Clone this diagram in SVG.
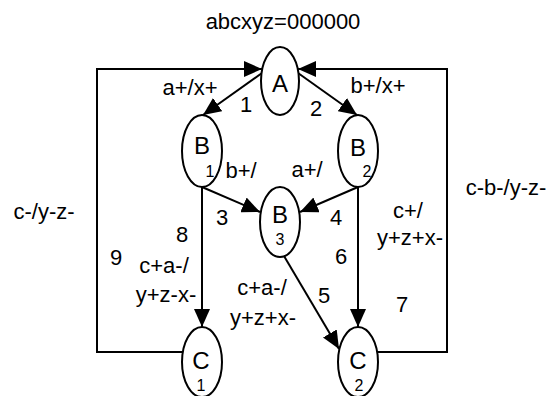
<svg xmlns="http://www.w3.org/2000/svg" width="560" height="396" viewBox="0 0 560 396">
<style>
text{font-family:"Liberation Sans",Arial,sans-serif;fill:#000;text-anchor:middle}
.lb{font-size:22px}
.nd{font-size:24px}
.sb{font-size:16px}
ellipse{fill:#fff;stroke:#000;stroke-width:2}
.e{fill:none;stroke:#000;stroke-width:2}
</style>
<defs>
<marker id="ah" markerUnits="userSpaceOnUse" markerWidth="18" markerHeight="16" refX="18" refY="8" orient="auto">
<path d="M0,0 L18,8 L0,16 z" fill="#000"/>
</marker>
</defs>
<rect width="560" height="396" fill="#fff"/>
<g id="connectors">
<path class="e" d="M183,352 H97 V69 H262" marker-end="url(#ah)"/>
<path class="e" d="M377,352 H447 V69 H298" marker-end="url(#ah)"/>
<line class="e" x1="262" y1="73" x2="203" y2="115" marker-end="url(#ah)"/>
<line class="e" x1="298" y1="73" x2="357" y2="115" marker-end="url(#ah)"/>
<line class="e" x1="202" y1="187" x2="260" y2="212" marker-end="url(#ah)"/>
<line class="e" x1="358" y1="187" x2="300" y2="212" marker-end="url(#ah)"/>
<line class="e" x1="202" y1="187" x2="202" y2="327" marker-end="url(#ah)"/>
<line class="e" x1="358" y1="187" x2="358" y2="327" marker-end="url(#ah)"/>
<line class="e" x1="284" y1="256" x2="339" y2="349" marker-end="url(#ah)"/>
</g>
<g id="A"><ellipse cx="280" cy="81" rx="19" ry="34"/><text class="nd" x="280" y="92">A</text></g>
<g id="B1"><ellipse cx="202" cy="151" rx="20" ry="36"/><text class="nd" x="202" y="154">B</text><text class="sb" x="210" y="177">1</text></g>
<g id="B2"><ellipse cx="358" cy="151" rx="20" ry="36"/><text class="nd" x="358" y="156">B</text><text class="sb" x="367" y="177">2</text></g>
<g id="B3"><ellipse cx="280" cy="222" rx="20" ry="35"/><text class="nd" x="280" y="223">B</text><text class="sb" x="280" y="245">3</text></g>
<g id="C1"><ellipse cx="202" cy="362" rx="20" ry="35"/><text class="nd" x="201" y="369">C</text><text class="sb" x="201" y="391">1</text></g>
<g id="C2"><ellipse cx="358" cy="362" rx="20" ry="35"/><text class="nd" x="358" y="369">C</text><text class="sb" x="359" y="391">2</text></g>
<g id="labels" class="lb">
<text class="lb" x="283" y="29">abcxyz=000000</text>
<text class="lb" x="190" y="95">a+/x+</text>
<text class="lb" x="246" y="112">1</text>
<text class="lb" x="316" y="116">2</text>
<text class="lb" x="378" y="93">b+/x+</text>
<text class="lb" x="241" y="178">b+/</text>
<text class="lb" x="307" y="177">a+/</text>
<text class="lb" x="222" y="225">3</text>
<text class="lb" x="336" y="225">4</text>
<text class="lb" x="182" y="242">8</text>
<text class="lb" x="116" y="265">9</text>
<text class="lb" x="164" y="273">c+a-/</text>
<text class="lb" x="166" y="302">y+z-x-</text>
<text class="lb" x="44" y="219">c-/y-z-</text>
<text class="lb" x="341" y="264">6</text>
<text class="lb" x="408" y="218">c+/</text>
<text class="lb" x="410" y="245">y+z+x-</text>
<text class="lb" x="506" y="195">c-b-/y-z-</text>
<text class="lb" x="324" y="303">5</text>
<text class="lb" x="402" y="312">7</text>
<text class="lb" x="262" y="295">c+a-/</text>
<text class="lb" x="263" y="325">y+z+x-</text>
</g>
</svg>
